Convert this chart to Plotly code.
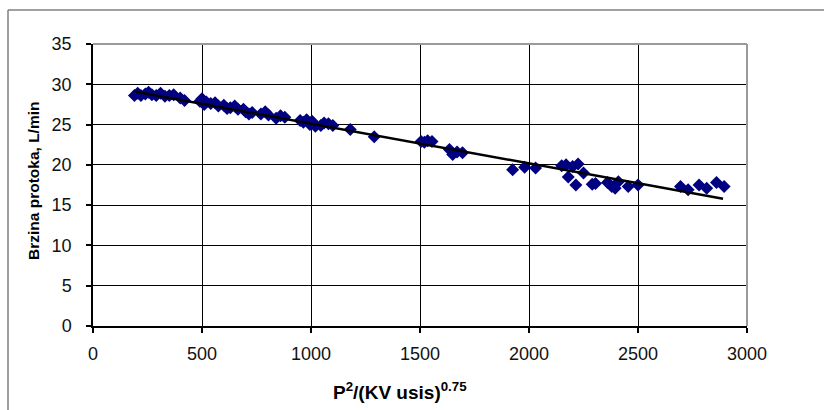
import plotly.graph_objects as go

# --- data ---
x_vals = [190, 205, 220, 240, 255, 270, 290, 310, 330, 350, 370, 400, 420, 490, 500, 510, 520,
          540, 560, 575, 600, 615, 630, 650, 665, 690, 700, 715, 730, 770, 790, 805, 840, 860,
          880, 950, 965, 980, 995, 1005, 1020, 1045, 1060, 1080, 1100, 1180, 1290, 1505, 1520,
          1535, 1555, 1635, 1650, 1670, 1695, 1925, 1980, 2030, 2150, 2170, 2180, 2200, 2215,
          2225, 2250, 2290, 2305, 2360, 2380, 2395, 2410, 2455, 2500, 2695, 2730, 2780, 2815,
          2860, 2895]
y_vals = [28.6, 28.9, 28.6, 28.8, 29.0, 28.7, 28.6, 28.9, 28.5, 28.6, 28.7, 28.3, 28.0, 27.9,
          28.2, 27.5, 27.8, 27.6, 27.7, 27.3, 27.4, 27.0, 27.1, 27.3, 26.9, 26.9, 26.6, 26.3,
          26.5, 26.3, 26.6, 26.2, 25.8, 26.1, 25.9, 25.5, 25.3, 25.6, 25.0, 25.4, 24.8, 24.9,
          25.2, 25.1, 24.9, 24.4, 23.5, 22.9, 22.8, 23.0, 22.9, 21.9, 21.3, 21.6, 21.5, 19.4,
          19.7, 19.6, 19.9, 20.0, 18.5, 19.8, 17.5, 20.1, 19.0, 17.6, 17.7, 17.8, 17.3, 17.1,
          17.9, 17.3, 17.5, 17.3, 16.9, 17.5, 17.1, 17.8, 17.3]
trend_x = [190, 2890]
trend_y = [29.1, 15.8]
x_ticks = [0, 500, 1000, 1500, 2000, 2500, 3000]
y_ticks = [0, 5, 10, 15, 20, 25, 30, 35]
x_title = "P<sup>2</sup>/(KV usis)<sup>0.75</sup>"
y_title = "Brzina protoka, L/min"

W, H = 824, 410
L, R, T, B = 93, 747, 44, 326


def px(xp):
    return (xp - L) / (R - L)


def py(yp):
    return (B - yp) / (B - T)


fig = go.Figure()
fig.add_trace(go.Scatter(
    x=x_vals, y=y_vals, mode="markers",
    marker=dict(symbol="diamond", size=10, color="#000080", line=dict(width=0)),
    showlegend=False, hoverinfo="skip"))
fig.add_trace(go.Scatter(
    x=trend_x, y=trend_y, mode="lines",
    line=dict(color="#000000", width=2.5),
    showlegend=False, hoverinfo="skip"))

tickfont = dict(family="Liberation Sans, Arial, sans-serif", size=18, color="#111111")

fig.update_xaxes(
    range=[0, 3000], tickvals=x_ticks, ticktext=[str(v) for v in x_ticks],
    showgrid=True, gridcolor="#000000", gridwidth=1.2,
    showline=True, linecolor="#000000", linewidth=1.5,
    ticks="outside", ticklen=5, tickcolor="#000000", tickwidth=1.5,
    tickfont=tickfont, ticklabelstandoff=6, zeroline=False, fixedrange=True)
fig.update_yaxes(
    range=[0, 35], tickvals=y_ticks, ticktext=[str(v) for v in y_ticks],
    showgrid=True, gridcolor="#000000", gridwidth=1.2,
    showline=True, linecolor="#000000", linewidth=1.5,
    ticks="outside", ticklen=5, tickcolor="#000000", tickwidth=1.5,
    tickfont=tickfont, ticklabelstandoff=11, zeroline=False, fixedrange=True)

shapes = [
    # gray plot-area border on top and right
    dict(type="line", xref="paper", yref="paper", x0=0, x1=1, y0=1, y1=1,
         line=dict(color="#9a9a9a", width=2), layer="above"),
    dict(type="line", xref="paper", yref="paper", x0=1, x1=1, y0=0, y1=1,
         line=dict(color="#9a9a9a", width=2), layer="above"),
    # outer chart frame (extends beyond the picture on right and bottom)
    dict(type="line", xref="paper", yref="paper", x0=px(8), x1=px(840), y0=py(10), y1=py(10),
         line=dict(color="#808080", width=1.5), layer="above"),
    dict(type="line", xref="paper", yref="paper", x0=px(8), x1=px(8), y0=py(10), y1=py(430),
         line=dict(color="#808080", width=1.5), layer="above"),
]

annotations = [
    dict(text="<b>" + y_title + "</b>", xref="paper", yref="paper",
         x=px(33), y=py(181), textangle=-90, showarrow=False,
         font=dict(family="Liberation Sans, Arial, sans-serif", size=15.5, color="#000000"),
         xanchor="center", yanchor="middle"),
    dict(text="<b>" + x_title + "</b>", xref="paper", yref="paper",
         x=px(400), y=py(377), showarrow=False,
         font=dict(family="Liberation Sans, Arial, sans-serif", size=19, color="#000000"),
         xanchor="center", yanchor="top"),
]

fig.update_layout(
    width=W, height=H,
    margin=dict(l=L, r=W - R, t=T, b=H - B, pad=0),
    paper_bgcolor="#ffffff", plot_bgcolor="#ffffff",
    shapes=shapes, annotations=annotations, showlegend=False)

fig.write_html("out.html", config={"displayModeBar": False})

# remove the browser's default body margin so the figure sits at the page origin
with open("out.html", "r", encoding="utf-8") as f:
    html = f.read()
html = html.replace("<body>", '<body style="margin:0;padding:0;overflow:hidden;">', 1)
with open("out.html", "w", encoding="utf-8") as f:
    f.write(html)
